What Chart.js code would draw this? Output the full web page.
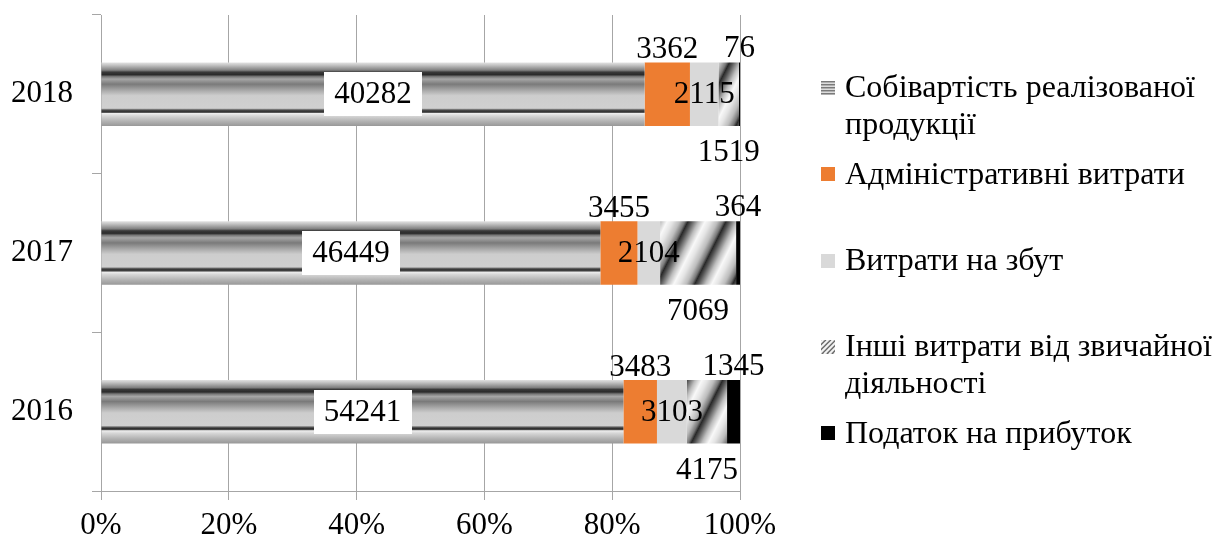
<!DOCTYPE html>
<html>
<head>
<meta charset="utf-8">
<script src="https://cdn.jsdelivr.net/npm/chart.js@4.4.1/dist/chart.umd.min.js"></script>
<style>
  html, body { margin: 0; padding: 0; background: #ffffff; }
  #wrap { width: 1216px; height: 541px; position: relative; }
</style>
</head>
<body>
<div id="wrap"><canvas id="chart" width="1216" height="541"></canvas></div>
<script>
// ---- data (тис. грн) ----
const years = ['2018', '2017', '2016'];
const costOfSales = [40282, 46449, 54241];
const adminExpenses = [3362, 3455, 3483];
const sellingExpenses = [2115, 2104, 3103];
const otherExpenses = [1519, 7069, 4175];
const incomeTax = [76, 364, 1345];
const percentTicks = ['0%', '20%', '40%', '60%', '80%', '100%'];
const seriesNames = [
  ['Собівартість реалізованої', 'продукції'],
  ['Адміністративні витрати'],
  ['Витрати на збут'],
  ['Інші витрати від звичайної', 'діяльності'],
  ['Податок на прибуток']
];
const seriesValues = [costOfSales, adminExpenses, sellingExpenses, otherExpenses, incomeTax];

// ---- styling ----
const FONT_FAMILY = '"Liberation Serif", "Times New Roman", serif';
const FONT_SIZE = 31;
const LEGEND_FONT_SIZE = 32;
const GRID = '#a6a6a6';
const BAR_PCT = 0.4;
const ORANGE = '#ED7D31';
const LIGHT_GRAY = '#D9D9D9';
// vertical shift of each series' value label from the bar centre, px
const labelShift = [0, -45, 0, 58, -46];
const labelBoxed = [true, false, false, false, false];

const canvas = document.getElementById('chart');
const ctx = canvas.getContext('2d');

// totals per year -> shares for the 100% stacked bars
const totals = years.map((_, i) => seriesValues.reduce((s, arr) => s + arr[i], 0));
const shares = seriesValues.map(arr => arr.map((v, i) => v / totals[i] * 100));

// metallic horizontal banding for the first series
const bandStops = [
  [0.00, '#e2e2e2'], [0.04, '#c4c4c4'], [0.12, '#808080'], [0.15, '#3a3a3a'],
  [0.19, '#2a2a2a'], [0.22, '#767676'], [0.26, '#a6a6a6'], [0.34, '#7a7a7a'],
  [0.44, '#aaaaaa'], [0.52, '#cdcdcd'], [0.72, '#d0d0d0'], [0.745, '#5a5a5a'],
  [0.765, '#303030'], [0.785, '#4a4a4a'], [0.80, '#eeeeee'], [0.84, '#d6d6d6'],
  [0.93, '#b0b0b0'], [1.00, '#989898']
];
function bandFill(context) {
  const chart = context.chart;
  const area = chart.chartArea;
  if (!area || !chart.scales.y || context.dataIndex === undefined) return '#9a9a9a';
  const yc = chart.scales.y.getPixelForValue(context.dataIndex);
  const h = (area.bottom - area.top) / years.length * BAR_PCT;
  const g = chart.ctx.createLinearGradient(0, yc - h / 2, 0, yc + h / 2);
  bandStops.forEach(([o, c]) => g.addColorStop(o, c));
  return g;
}

// diagonal shaded stripes for "other expenses"
function makeDiagonalPattern() {
  const k = 2, T = 76, W = T / k, H = T;
  const c = document.createElement('canvas');
  c.width = W; c.height = H;
  const g = c.getContext('2d');
  const img = g.createImageData(W, H);
  const stops = [[0, 40], [0.10, 90], [0.28, 190], [0.45, 248], [0.60, 228], [0.78, 188], [0.92, 120], [1, 40]];
  for (let y = 0; y < H; y++) {
    for (let x = 0; x < W; x++) {
      const t = ((k * x + y) % T) / T;
      let v = 40;
      for (let s = 0; s < stops.length - 1; s++) {
        const [t0, v0] = stops[s], [t1, v1] = stops[s + 1];
        if (t >= t0 && t <= t1) { v = v0 + (v1 - v0) * (t - t0) / (t1 - t0); break; }
      }
      const p = (y * W + x) * 4;
      img.data[p] = img.data[p + 1] = img.data[p + 2] = Math.round(v);
      img.data[p + 3] = 255;
    }
  }
  g.putImageData(img, 0, 0);
  return ctx.createPattern(c, 'repeat');
}
const diagonalPattern = makeDiagonalPattern();

const fills = [bandFill, ORANGE, LIGHT_GRAY, diagonalPattern, '#000000'];

const datasets = seriesNames.map((name, s) => ({
  label: name.join(' '),
  data: shares[s],
  backgroundColor: fills[s],
  borderWidth: 0,
  barPercentage: BAR_PCT,
  categoryPercentage: 1.0
}));

// value labels placed around each stacked segment
const valueLabels = {
  id: 'valueLabels',
  afterDatasetsDraw(chart) {
    const c = chart.ctx;
    c.save();
    c.font = `${FONT_SIZE}px ${FONT_FAMILY}`;
    c.textAlign = 'center';
    c.textBaseline = 'middle';
    chart.data.datasets.forEach((ds, s) => {
      const meta = chart.getDatasetMeta(s);
      meta.data.forEach((el, i) => {
        const p = el.getProps(['x', 'y', 'base'], true);
        const cx = (p.x + p.base) / 2;
        const cy = p.y + labelShift[s];
        const txt = String(seriesValues[s][i]);
        if (labelBoxed[s]) {
          const w = c.measureText(txt).width + 20;
          const h = 44;
          c.fillStyle = '#ffffff';
          c.fillRect(Math.round(cx - w / 2), Math.round(cy - h / 2), Math.round(w), h);
        }
        c.fillStyle = '#000000';
        c.fillText(txt, cx, cy + 1);
      });
    });
    c.restore();
  }
};

// legend on the right with multi-line entries
const sideLegend = {
  id: 'sideLegend',
  afterDraw(chart) {
    const c = chart.ctx;
    const x0 = 821, size = 14, textX = 845, firstY = 88, step = 86.3, lineH = 37;
    c.save();
    c.font = `${LEGEND_FONT_SIZE}px ${FONT_FAMILY}`;
    c.textAlign = 'left';
    c.textBaseline = 'middle';
    seriesNames.forEach((lines, s) => {
      const y = firstY + s * step;
      const top = Math.round(y - size / 2);
      c.save();
      c.beginPath();
      c.rect(x0, top, size, size);
      c.clip();
      if (s === 0) {
        c.fillStyle = '#dcdcdc';
        c.fillRect(x0, top, size, size);
        for (let r = 0; r < size; r += 3) {
          c.fillStyle = '#7a7a7a';
          c.fillRect(x0, top + r, size, 1);
          c.fillStyle = '#b0b0b0';
          c.fillRect(x0, top + r + 1, size, 1);
        }
      } else if (s === 3) {
        c.fillStyle = '#d4d4d4';
        c.fillRect(x0, top, size, size);
        c.lineWidth = 1.6;
        for (let d = -size; d < size * 2; d += 5) {
          c.strokeStyle = '#6a6a6a';
          c.beginPath();
          c.moveTo(x0 + d, top + size);
          c.lineTo(x0 + d + size, top);
          c.stroke();
          c.strokeStyle = '#f4f4f4';
          c.beginPath();
          c.moveTo(x0 + d + 2, top + size);
          c.lineTo(x0 + d + 2 + size, top);
          c.stroke();
        }
      } else {
        c.fillStyle = fills[s];
        c.fillRect(x0, top, size, size);
      }
      c.restore();
      c.fillStyle = '#000000';
      lines.forEach((ln, j) => c.fillText(ln, textX, y + 1 + j * lineH));
    });
    c.restore();
  }
};

new Chart(canvas, {
  type: 'bar',
  data: { labels: years, datasets },
  options: {
    indexAxis: 'y',
    responsive: false,
    animation: false,
    events: [],
    layout: { padding: { top: 15, right: 476, left: 0, bottom: 0 } },
    plugins: {
      legend: { display: false },
      tooltip: { enabled: false }
    },
    scales: {
      x: {
        stacked: true,
        min: 0,
        max: 100,
        ticks: {
          stepSize: 20,
          color: '#000000',
          font: { family: FONT_FAMILY, size: FONT_SIZE },
          padding: 7,
          callback: (v) => percentTicks[Math.round(v / 20)]
        },
        grid: { color: GRID, lineWidth: 1, tickLength: 9, drawTicks: true },
        border: { color: GRID, width: 1 },
        afterFit: (s) => { s.height = 50; s.paddingLeft = 0; s.paddingRight = 0; }
      },
      y: {
        stacked: true,
        ticks: {
          color: '#000000',
          font: { family: FONT_FAMILY, size: FONT_SIZE },
          padding: 19
        },
        grid: { drawOnChartArea: false, color: GRID, tickLength: 9, offset: true },
        border: { color: GRID, width: 1 },
        afterFit: (s) => { s.width = 101; s.paddingTop = 0; s.paddingBottom = 0; }
      }
    }
  },
  plugins: [valueLabels, sideLegend]
});
</script>
</body>
</html>
